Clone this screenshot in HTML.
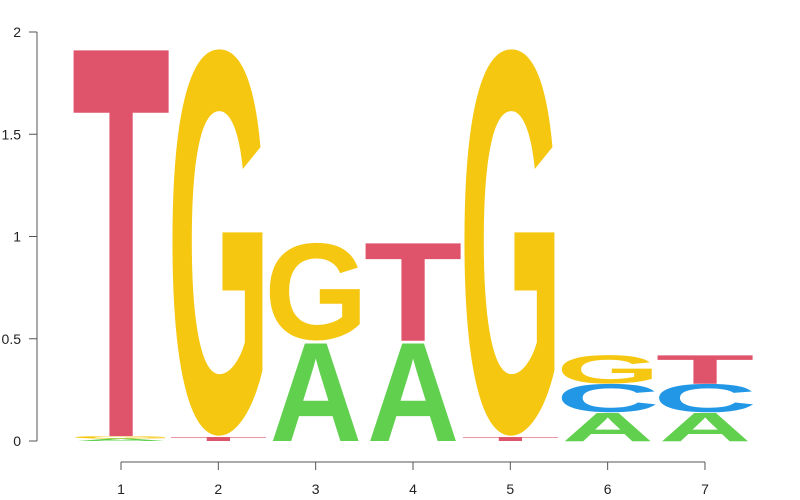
<!DOCTYPE html>
<html><head><meta charset="utf-8"><style>
body{margin:0;background:#fff;overflow:hidden;}
svg{display:block;font-family:"Liberation Sans",sans-serif;overflow:hidden;}
</style></head><body>
<svg id="chart" width="800" height="500" viewBox="0 0 800 500"></svg>
<script>
const positions = [1,2,3,4,5,6,7];
// stacks bottom-to-top: letters and heights (bits)
const stackLetters = [
  ["A","G","T"],
  ["T","G"],
  ["A","G"],
  ["A","T"],
  ["T","G"],
  ["A","C","G"],
  ["A","C","T"]
];
const stackHeights = [
  [0.012,0.012,1.90],
  [0.02,1.90],
  [0.49,0.48],
  [0.49,0.48],
  [0.02,1.90],
  [0.14,0.14,0.14],
  [0.14,0.14,0.14]
];
const yTicks = [0,0.5,1,1.5,2];
const yTickLabels = ["0","0.5","1","1.5","2"];

const colors = {A:"#61D04F",C:"#2297E6",G:"#F5C710",T:"#DF536B"};
// glyph ink metrics (em): left, right, top, bottom
const metrics = {A:[0.0,0.72,0.707,0],C:[0.04,0.68,0.70,-0.012],G:[0.04,0.73,0.70,-0.012],T:[0.02,0.59,0.693,0]};
const NS="http://www.w3.org/2000/svg";
const svg=document.getElementById('chart');
const y0=441, y2=32;
const yScale=v=>y0-(y0-y2)*v/2;
const xScale=p=>121+(p-1)*97.33;
const letterW=92;

function el(tag,attrs){const e=document.createElementNS(NS,tag);for(const k in attrs)e.setAttribute(k,attrs[k]);svg.appendChild(e);return e;}

const ya=el('line',{x1:37,y1:yScale(0),x2:37,y2:yScale(2),stroke:'#555','stroke-width':1});


yTicks.forEach((t,i)=>{
  const tk=el('line',{x1:29,x2:37,y1:yScale(t),y2:yScale(t),stroke:'#555'});
  
  
  const lb=el('text',{x:21,y:yScale(t)+5,'text-anchor':'end','font-size':14,fill:'#222'});
  lb.textContent=yTickLabels[i];
  
  
});
const xa=el('line',{x1:xScale(positions[0]),x2:xScale(positions[positions.length-1]),y1:462,y2:462,stroke:'#555'});


positions.forEach(p=>{
  const tk=el('line',{x1:xScale(p),x2:xScale(p),y1:462,y2:470,stroke:'#555'});
  
  
  const lb=el('text',{x:xScale(p),y:494,'text-anchor':'middle','font-size':14,fill:'#222'});
  lb.textContent=String(p);
  
  
});
positions.forEach((p,i)=>{
  let cum=0;
  stackLetters[i].forEach((L,j)=>{
    const h=stackHeights[i][j];
    const yb=yScale(cum), yt=yScale(cum+h);
    cum+=h;
    const pxH=yb-yt; if(pxH<=0)return;
    const m=metrics[L];
    const F=100;
    const sx=letterW/((m[1]-m[0])*F);
    const sy=pxH/((m[2]-m[3])*F);
    const x0=xScale(p)-letterW/2;
    const t=el('text',{x:0,y:0,'font-size':F,'font-weight':'bold',fill:colors[L],
      transform:`translate(${x0},${yb}) scale(${sx},${sy}) translate(${-m[0]*F},${m[3]*F})`});
    t.textContent=L;
    
    
  });
});
</script>
</body></html>
